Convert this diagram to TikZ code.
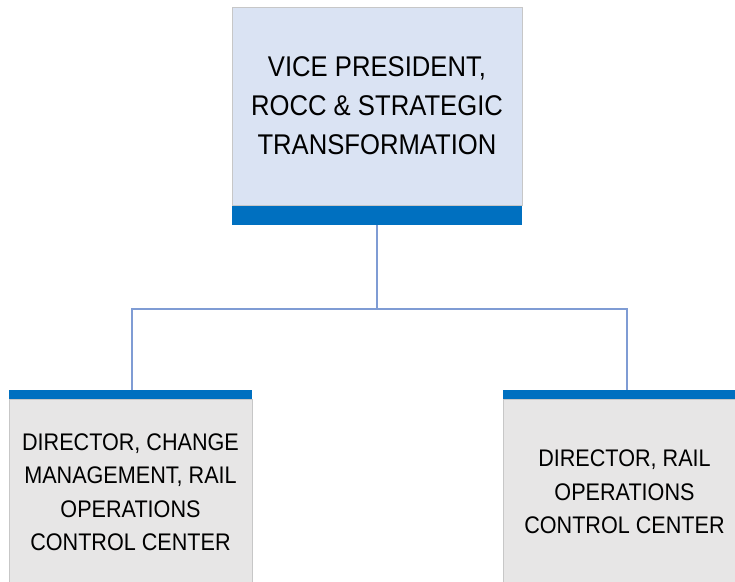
\documentclass[tikz,border=0pt]{standalone}
\usepackage{fontspec}
\setmainfont{Liberation Sans}[FakeStretch=0.9]
\usetikzlibrary{positioning}
\definecolor{vpfill}{HTML}{DAE3F3}
\definecolor{barblue}{HTML}{0070C0}
\definecolor{dirfill}{HTML}{E7E6E6}
\definecolor{linkblue}{HTML}{7F9CD4}
\begin{document}
\begin{tikzpicture}[x=1pt,y=-1pt,
        box/.style={draw=black!22, line width=0.8pt, inner sep=0pt, align=center, text=black},
        bar/.style={fill=barblue, inner sep=0pt, minimum height=#1},
        conn/.style={draw=linkblue, line width=1.4pt}]
        \useasboundingbox (0,0) rectangle (735,581);
        \clip (0,0) rectangle (735,581);
        % Caja superior con su barra
        \node[box, fill=vpfill, minimum width=290pt, minimum height=198pt, font=\fontsize{28.5}{39}\selectfont] (vp) at (377,106) {VICE PRESIDENT,\\ROCC \& STRATEGIC\\TRANSFORMATION};
        \node[bar=19pt, minimum width=290pt, below=0pt of vp] (vpbar) {};
        % Cajas inferiores
        \node[bar=9pt, minimum width=243pt] (dcmbar) at (130.5,394.5) {};
        \node[box, fill=dirfill, minimum width=243pt, minimum height=185pt, below=0pt of dcmbar, font=\fontsize{24}{33.5}\selectfont] (dcm) {DIRECTOR, CHANGE\\MANAGEMENT, RAIL\\OPERATIONS\\CONTROL CENTER};
        \node[bar=9pt, minimum width=243pt] (rocbar) at (624.5,394.5) {};
        \node[box, fill=dirfill, minimum width=243pt, minimum height=185pt, below=0pt of rocbar, font=\fontsize{24}{33.5}\selectfont] (roc) {DIRECTOR, RAIL\\OPERATIONS\\CONTROL CENTER};
        % Conexiones
        \coordinate (split) at (377,309);
        \draw[conn] (vpbar.south) -- (split) -| ([xshift=1.5pt]dcmbar.north);
        \draw[conn] (split) -| ([xshift=2.5pt]rocbar.north);
    \end{tikzpicture}
\end{document}
